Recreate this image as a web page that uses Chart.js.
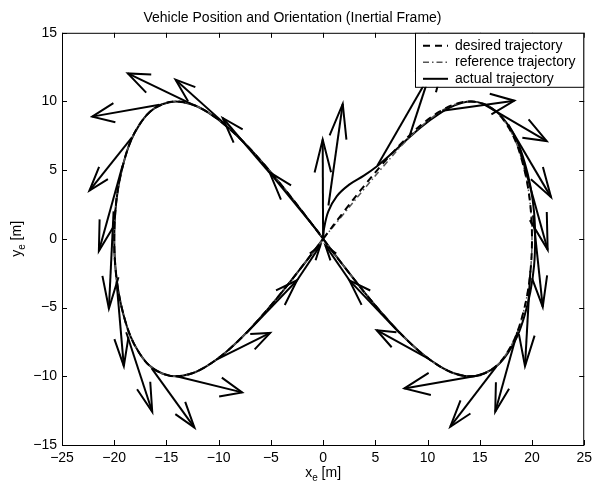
<!DOCTYPE html>
<html>
<head>
<meta charset="utf-8">
<script src="https://cdn.jsdelivr.net/npm/chart.js@4.4.1/dist/chart.umd.min.js"></script>
<style>
  html, body { margin: 0; padding: 0; background: #fff; }
</style>
</head>
<body>
<canvas id="grafico" width="597" height="487"></canvas>
<script>
// trajetoria desejada (figura oito)
const desiredX = [0, 1.95, 3.9, 5.8, 7.65, 9.4, 11.1, 12.6, 14.1, 15.4, 16.6, 17.6, 18.45, 19.1, 19.6, 19.9, 20,
  19.9, 19.6, 19.1, 18.45, 17.6, 16.6, 15.4, 14.1, 12.6, 11.1, 9.4, 7.65, 5.8, 3.9, 1.95, 0,
  -1.95, -3.9, -5.8, -7.65, -9.4, -11.1, -12.6, -14.1, -15.4, -16.6, -17.6, -18.45, -19.1, -19.6, -19.9, -20,
  -19.9, -19.6, -19.1, -18.45, -17.6, -16.6, -15.4, -14.1, -12.6, -11.1, -9.4, -7.65, -5.8, -3.9, -1.95, 0];
const desiredY = [0, 1.95, 3.83, 5.55, 7.07, 8.3, 9.24, 9.8, 10, 9.8, 9.24, 8.3, 7.07, 5.55, 3.83, 1.95, 0,
  -1.95, -3.83, -5.55, -7.07, -8.3, -9.24, -9.8, -10, -9.8, -9.24, -8.3, -7.07, -5.55, -3.83, -1.95, 0,
  1.95, 3.83, 5.55, 7.07, 8.3, 9.24, 9.8, 10, 9.8, 9.24, 8.3, 7.07, 5.55, 3.83, 1.95, 0,
  -1.95, -3.83, -5.55, -7.07, -8.3, -9.24, -9.8, -10, -9.8, -9.24, -8.3, -7.07, -5.55, -3.83, -1.95, 0];

// trajetoria de referencia
const referenceX = [0, 2.0, 3.95, 5.85, 7.7, 9.4, 11.1, 12.6, 14.1, 15.4, 16.6, 17.6, 18.45, 19.1, 19.6, 19.9, 20,
  19.9, 19.6, 19.1, 18.45, 17.6, 16.6, 15.4, 14.1, 12.6, 11.1, 9.4, 7.65, 5.8, 3.9, 1.95, 0,
  -1.95, -3.9, -5.8, -7.65, -9.4, -11.1, -12.6, -14.1, -15.4, -16.6, -17.6, -18.45, -19.1, -19.6, -19.9, -20,
  -19.9, -19.6, -19.1, -18.45, -17.6, -16.6, -15.4, -14.1, -12.6, -11.1, -9.4, -7.65, -5.8, -3.9, -1.95, 0];
const referenceY = [0, 1.85, 3.65, 5.35, 6.95, 8.2, 9.2, 9.78, 10, 9.8, 9.24, 8.3, 7.07, 5.55, 3.83, 1.95, 0,
  -1.95, -3.83, -5.55, -7.07, -8.3, -9.24, -9.8, -10, -9.8, -9.24, -8.3, -7.07, -5.55, -3.83, -1.95, 0,
  1.95, 3.83, 5.55, 7.07, 8.3, 9.24, 9.8, 10, 9.8, 9.24, 8.3, 7.07, 5.55, 3.83, 1.95, 0,
  -1.95, -3.83, -5.55, -7.07, -8.3, -9.24, -9.8, -10, -9.8, -9.24, -8.3, -7.07, -5.55, -3.83, -1.95, 0];

// trajetoria real do veiculo
const actualX = [0, 0.1, 0.5, 1.3, 2.5, 3.9, 5.1, 6.4, 7.7, 9.4, 11.1, 12.6, 14.1, 15.4, 16.65, 17.7, 18.6, 19.3, 19.85, 20.2, 20.3,
  20.2, 19.85, 19.3, 18.6, 17.7, 16.65, 15.4, 14.1, 12.6, 11.1, 9.4, 7.65, 5.8, 3.9, 1.95, 0,
  -1.95, -3.9, -5.8, -7.65, -9.4, -11.1, -12.6, -14.1, -15.4, -16.6, -17.6, -18.45, -19.1, -19.6, -19.9, -20,
  -19.9, -19.6, -19.1, -18.45, -17.6, -16.6, -15.4, -14.1, -12.6, -11.1, -9.4, -7.65, -5.8, -3.9, -1.95, 0];
const actualY = [0, 0.8, 2.0, 3.1, 3.95, 4.6, 5.25, 6.1, 7.0, 8.15, 9.1, 9.72, 10, 9.82, 9.24, 8.3, 7.07, 5.55, 3.83, 1.95, 0,
  -1.95, -3.83, -5.55, -7.07, -8.3, -9.24, -9.8, -10, -9.8, -9.24, -8.3, -7.07, -5.55, -3.83, -1.95, 0,
  1.95, 3.83, 5.55, 7.07, 8.3, 9.24, 9.8, 10, 9.8, 9.24, 8.3, 7.07, 5.55, 3.83, 1.95, 0,
  -1.95, -3.83, -5.55, -7.07, -8.3, -9.24, -9.8, -10, -9.8, -9.24, -8.3, -7.07, -5.55, -3.83, -1.95, 0];

// orientacao: base (x,y) e componentes (u,v) das setas
const arrowX = [0, 0.51, 5.2, 8.26, 11.42, 15.24, 17.73, 18.79, 20.1, 19.84, 18.59, 16.58, 15.15, 10.17, 7.30, 2.52,
  -0.35, -5.14, -9.44, -12.63, -15.67, -18.30, -19.20, -20.06, -19.78, -18.85, -16.43, -14.04, -10.21, -7.34, -2.49];
const arrowY = [0, 2.43, 5.34, 7.44, 9.33, 9.87, 8.32, 6.64, 1.71, -2.36, -6.79, -9.30, -9.91, -8.75, -6.83, -3.01,
  0.40, 4.83, 8.39, 9.82, 9.77, 7.39, 5.34, 2.0, -3.09, -6.79, -9.40, -9.99, -8.79, -6.86, -3.01];
const arrowU = [-0.04, 1.37, 6.89, 2.87, 6.89, 6.17, 4.09, 2.71, 0.93, -0.51, -2.11, -4.40, -7.37, -5.04, -4.78, -2.30,
  -4.78, -4.47, -4.69, -6.07, -6.44, -4.07, -2.27, -0.45, 0.70, 2.49, 4.11, 6.29, 5.14, 4.85, 2.23];
const arrowV = [7.23, 7.39, 9.08, 6.68, 0.73, -2.75, -5.28, -7.43, -6.66, -6.9, -5.79, -4.37, -0.97, 2.11, 3.81, 2.54,
  4.45, 3.97, 3.20, 2.22, -0.87, -3.87, -6.22, -7.07, -6.17, -5.79, -4.34, -1.18, 1.95, 3.85, 2.54];

const xTicks = [-25, -20, -15, -10, -5, 0, 5, 10, 15, 20, 25];
const yTicks = [-15, -10, -5, 0, 5, 10, 15];
const legendas = ['desired trajectory', 'reference trajectory', 'actual trajectory'];

const FONTE = '"Liberation Sans", Arial, Helvetica, sans-serif';

function pontos(xs, ys) {
  return xs.map((v, i) => ({x: v, y: ys[i]}));
}

function rotuloTick(v) {
  return v < 0 ? '\u2212' + Math.abs(v) : String(v);
}

// texto com subscrito, ex.: x_e [m]
function textoSub(ctx, base, sub, resto, x, y) {
  ctx.font = '14px ' + FONTE;
  const w1 = ctx.measureText(base).width;
  const w3 = ctx.measureText(resto).width;
  ctx.font = '10px ' + FONTE;
  const w2 = ctx.measureText(sub).width;
  let x0 = x - (w1 + w2 + w3) / 2;
  ctx.textAlign = 'left';
  ctx.textBaseline = 'alphabetic';
  ctx.font = '14px ' + FONTE;
  ctx.fillText(base, x0, y);
  ctx.font = '10px ' + FONTE;
  ctx.fillText(sub, x0 + w1, y + 4);
  ctx.font = '14px ' + FONTE;
  ctx.fillText(resto, x0 + w1 + w2, y);
}

const alfa = 0.33, beta = 0.33;

const desenhos = {
  id: 'desenhos',
  afterDatasetsDraw(chart) {
    const {ctx, chartArea: a, scales: {x, y}} = chart;
    ctx.save();
    ctx.beginPath();
    ctx.rect(a.left, a.top, a.right - a.left, a.bottom - a.top);
    ctx.clip();
    ctx.strokeStyle = '#000';
    ctx.lineWidth = 2;
    ctx.lineJoin = 'miter';
    for (let i = 0; i < arrowX.length; i++) {
      const u = arrowU[i], v = arrowV[i];
      const x1 = arrowX[i] + u, y1 = arrowY[i] + v;
      const hx1 = x1 - alfa * (u + beta * v), hy1 = y1 - alfa * (v - beta * u);
      const hx2 = x1 - alfa * (u - beta * v), hy2 = y1 - alfa * (v + beta * u);
      ctx.beginPath();
      ctx.moveTo(x.getPixelForValue(arrowX[i]), y.getPixelForValue(arrowY[i]));
      ctx.lineTo(x.getPixelForValue(x1), y.getPixelForValue(y1));
      ctx.stroke();
      ctx.beginPath();
      ctx.moveTo(x.getPixelForValue(hx1), y.getPixelForValue(hy1));
      ctx.lineTo(x.getPixelForValue(x1), y.getPixelForValue(y1));
      ctx.lineTo(x.getPixelForValue(hx2), y.getPixelForValue(hy2));
      ctx.stroke();
    }
    ctx.restore();
  },
  afterDraw(chart) {
    const {ctx, chartArea: a, scales: {x, y}} = chart;
    ctx.save();
    // moldura e ticks para dentro
    ctx.strokeStyle = '#000';
    ctx.lineWidth = 1;
    ctx.strokeRect(a.left + 0.5, a.top + 0.5, a.right - a.left - 1, a.bottom - a.top);
    ctx.beginPath();
    xTicks.forEach(t => {
      const px = Math.round(x.getPixelForValue(t)) + 0.5;
      ctx.moveTo(px, a.bottom); ctx.lineTo(px, a.bottom - 5);
      ctx.moveTo(px, a.top); ctx.lineTo(px, a.top + 5);
    });
    yTicks.forEach(t => {
      const py = Math.round(y.getPixelForValue(t)) + 0.5;
      ctx.moveTo(a.left, py); ctx.lineTo(a.left + 5, py);
      ctx.moveTo(a.right, py); ctx.lineTo(a.right - 5, py);
    });
    ctx.stroke();

    // rotulos dos eixos
    ctx.fillStyle = '#000';
    textoSub(ctx, 'x', 'e', ' [m]', (a.left + a.right) / 2, 477);
    ctx.save();
    ctx.translate(21, (a.top + a.bottom) / 2);
    ctx.rotate(-Math.PI / 2);
    textoSub(ctx, 'y', 'e', ' [m]', 0, 0);
    ctx.restore();

    // legenda
    const lx = 415, ly = a.top, lw = a.right - lx, lh = 54;
    ctx.fillStyle = '#fff';
    ctx.fillRect(lx, ly, lw, lh);
    ctx.strokeRect(lx + 0.5, ly + 0.5, lw - 1, lh);
    ctx.font = '14px ' + FONTE;
    ctx.textAlign = 'left';
    ctx.textBaseline = 'middle';
    chart.data.datasets.forEach((ds, i) => {
      const ry = ly + 13 + i * 16.5;
      ctx.strokeStyle = ds.borderColor;
      ctx.lineWidth = ds.borderWidth;
      ctx.setLineDash(ds.borderDash || []);
      ctx.beginPath();
      ctx.moveTo(lx + 8, ry);
      ctx.lineTo(lx + 33, ry);
      ctx.stroke();
      ctx.setLineDash([]);
      ctx.fillStyle = '#000';
      ctx.fillText(ds.label, lx + 40, ry);
    });
    ctx.restore();
  }
};

const ctx = document.getElementById('grafico');

const grafico = new Chart(ctx, {
  type: 'scatter',
  data: {
    datasets: [
      {
        label: legendas[0],
        data: pontos(desiredX, desiredY),
        showLine: true,
        borderColor: '#000',
        borderWidth: 2,
        borderDash: [7, 5],
        pointRadius: 0,
        tension: 0.35,
        fill: false
      },
      {
        label: legendas[1],
        data: pontos(referenceX, referenceY),
        showLine: true,
        borderColor: '#555',
        borderWidth: 1.5,
        borderDash: [6, 3, 1.5, 3],
        pointRadius: 0,
        tension: 0.35,
        fill: false
      },
      {
        label: legendas[2],
        data: pontos(actualX, actualY),
        showLine: true,
        borderColor: '#000',
        borderWidth: 2,
        pointRadius: 0,
        tension: 0.35,
        fill: false
      }
    ]
  },
  options: {
    responsive: false,
    animation: false,
    layout: { padding: { left: 0, right: 12, top: 0, bottom: 0 } },
    plugins: {
      legend: { display: false },
      tooltip: { enabled: false },
      title: {
        display: true,
        text: 'Vehicle Position and Orientation (Inertial Frame)',
        color: '#000',
        font: { family: FONTE, size: 14, weight: 'normal', lineHeight: 1.2 },
        padding: { top: 10, bottom: 6 }
      }
    },
    scales: {
      x: {
        type: 'linear',
        min: -25, max: 25,
        afterBuildTicks: s => { s.ticks = xTicks.map(v => ({value: v})); },
        afterFit: s => { s.height = 42; },
        grid: { display: false, drawTicks: false },
        border: { display: false },
        ticks: {
          autoSkip: false, maxRotation: 0, padding: 5,
          color: '#000', font: { family: FONTE, size: 14 },
          callback: rotuloTick
        }
      },
      y: {
        type: 'linear',
        min: -15, max: 15,
        afterBuildTicks: s => { s.ticks = yTicks.map(v => ({value: v})); },
        afterFit: s => { s.width = 62; },
        grid: { display: false, drawTicks: false },
        border: { display: false },
        ticks: {
          autoSkip: false, padding: 5,
          color: '#000', font: { family: FONTE, size: 14 },
          callback: rotuloTick
        }
      }
    }
  },
  plugins: [desenhos]
});
</script>
</body>
</html>
